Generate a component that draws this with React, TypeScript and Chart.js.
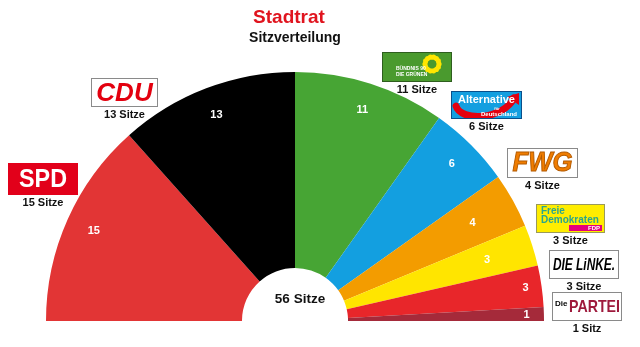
import React, { useEffect, useRef } from 'react';
import { Chart, registerables } from 'chart.js';

Chart.register(...registerables);

// ---- data ----
const parties = ['SPD', 'CDU', 'GRÜNE', 'AfD', 'FWG', 'FDP', 'DIE LINKE', 'Die PARTEI'];
const seats = [15, 13, 11, 6, 4, 3, 3, 1];
const titleText = 'Stadtrat';
const subtitleText = 'Sitzverteilung';
const totalSeats = seats.reduce((a, b) => a + b, 0);
const totalLabel = `${totalSeats} Sitze`;
const seatCaptions = seats.map((n) => (n === 1 ? `${n} Sitz` : `${n} Sitze`));

// ---- styles / layout ----
const colors = ['#e23535', '#000000', '#47a534', '#139fe0', '#f39c00', '#ffe500', '#e8262a', '#a52a3a'];
const labelRadius = [0.885, 0.885, 0.89, 0.89, 0.815, 0.81, 0.935, 0.93];
const logoBoxes = [
  [8, 163, 70, 32],
  [91, 78, 67, 29],
  [382, 52, 70, 30],
  [451, 91, 71, 28],
  [507, 148, 71, 30],
  [536, 204, 69, 29],
  [549, 250, 70, 29],
  [552, 292, 70, 29],
];
const FONT = '"Liberation Sans", Arial, sans-serif';

function drawLogo(ctx: CanvasRenderingContext2D, i: number) {
  const [x, y, w, h] = logoBoxes[i];
  const cx = x + w / 2;
  const cy = y + h / 2;
  ctx.save();
  ctx.textAlign = 'center';
  ctx.textBaseline = 'middle';
  const framed = (fill: string, stroke: string) => {
    ctx.fillStyle = fill;
    ctx.fillRect(x, y, w, h);
    ctx.strokeStyle = stroke;
    ctx.lineWidth = 1;
    ctx.strokeRect(x + 0.5, y + 0.5, w - 1, h - 1);
  };
  switch (i) {
    case 0: {
      ctx.fillStyle = '#e2001a';
      ctx.fillRect(x, y, w, h);
      ctx.fillStyle = '#fff';
      ctx.font = `bold 25px ${FONT}`;
      ctx.fillText('SPD', cx, cy + 1, 48);
      break;
    }
    case 1: {
      framed('#fff', '#8a8a8a');
      ctx.fillStyle = '#e3000f';
      ctx.font = `italic bold 26px ${FONT}`;
      ctx.fillText('CDU', cx, cy + 1, 61);
      break;
    }
    case 2: {
      framed('#4a9a2e', '#2e5e1e');
      ctx.fillStyle = '#ffe600';
      const sx = x + 50, sy = y + 12;
      for (let k = 0; k < 14; k++) {
        const a = (k / 14) * Math.PI * 2;
        ctx.beginPath();
        ctx.arc(sx + Math.cos(a) * 7, sy + Math.sin(a) * 7, 2.6, 0, Math.PI * 2);
        ctx.fill();
      }
      ctx.fillStyle = '#4a9a2e';
      ctx.beginPath();
      ctx.arc(sx, sy, 4, 0, Math.PI * 2);
      ctx.fill();
      ctx.fillStyle = '#fff';
      ctx.font = `bold 5px ${FONT}`;
      ctx.textAlign = 'left';
      ctx.fillText('BÜNDNIS 90', x + 14, y + 17);
      ctx.fillText('DIE GRÜNEN', x + 14, y + 23);
      break;
    }
    case 3: {
      framed('#139fe0', '#0a4f8a');
      ctx.save();
      ctx.beginPath();
      ctx.rect(x + 1, y + 1, w - 2, h - 2);
      ctx.clip();
      ctx.strokeStyle = '#e3000f';
      ctx.lineWidth = 7;
      ctx.lineCap = 'round';
      ctx.beginPath();
      ctx.moveTo(x + 5, y + 15);
      ctx.bezierCurveTo(x + 10, y + h + 3, x + 52, y + h + 1, x + 63, y + 7);
      ctx.stroke();
      ctx.fillStyle = '#e3000f';
      ctx.beginPath();
      ctx.moveTo(x + 56, y + 6);
      ctx.lineTo(x + 68, y + 2);
      ctx.lineTo(x + 68, y + 14);
      ctx.closePath();
      ctx.fill();
      ctx.restore();
      ctx.fillStyle = '#fff';
      ctx.font = `bold 11px ${FONT}`;
      ctx.fillText('Alternative', cx, y + 9, 60);
      ctx.font = `bold 4px ${FONT}`;
      ctx.fillText('für', x + 46, y + 18);
      ctx.font = `bold 6px ${FONT}`;
      ctx.fillText('Deutschland', x + 48, y + 23);
      break;
    }
    case 4: {
      framed('#fff', '#8a8a8a');
      ctx.font = `italic bold 27px ${FONT}`;
      ctx.fillStyle = '#f07d00';
      ctx.strokeStyle = '#b45a00';
      ctx.lineWidth = 1;
      ctx.fillText('FWG', cx, cy + 1, 60);
      ctx.strokeText('FWG', cx, cy + 1, 60);
      break;
    }
    case 5: {
      framed('#ffed00', '#9a9a5a');
      ctx.textAlign = 'left';
      ctx.fillStyle = '#2aa58e';
      ctx.font = `bold 10px ${FONT}`;
      ctx.fillText('Freie', x + 5, y + 7);
      ctx.fillText('Demokraten', x + 5, y + 16, 60);
      ctx.fillStyle = '#e5007d';
      ctx.fillRect(x + 33, y + 21, 33, 6);
      ctx.fillStyle = '#fff';
      ctx.font = `bold 6px ${FONT}`;
      ctx.textAlign = 'right';
      ctx.fillText('FDP', x + 64, y + 24);
      break;
    }
    case 6: {
      framed('#fff', '#8a8a8a');
      ctx.fillStyle = '#000';
      ctx.font = `italic bold 17px ${FONT}`;
      ctx.fillText('DIE LiNKE.', cx, cy + 1, 62);
      break;
    }
    case 7: {
      framed('#fff', '#8a8a8a');
      ctx.textAlign = 'left';
      ctx.fillStyle = '#000';
      ctx.font = `bold 8px ${FONT}`;
      ctx.fillText('Die', x + 3, cy - 3);
      ctx.fillStyle = '#9e1a3c';
      ctx.font = `bold 17px ${FONT}`;
      ctx.fillText('PARTEI', x + 17, cy + 1, 51);
      break;
    }
  }
  // seat caption
  ctx.textAlign = 'center';
  ctx.textBaseline = 'middle';
  ctx.fillStyle = '#111';
  ctx.font = `bold 11px ${FONT}`;
  ctx.fillText(seatCaptions[i], cx, y + h + 8);
  ctx.restore();
}

const overlayPlugin = {
  id: 'overlay',
  afterDatasetsDraw(chart: any) {
    const ctx: CanvasRenderingContext2D = chart.ctx;
    const meta = chart.getDatasetMeta(0);
    ctx.save();
    ctx.textAlign = 'center';
    ctx.textBaseline = 'middle';
    meta.data.forEach((arc: any, i: number) => {
      const p = arc.getProps(['x', 'y', 'startAngle', 'endAngle', 'outerRadius'], true);
      const mid = (p.startAngle + p.endAngle) / 2;
      const r = p.outerRadius * labelRadius[i];
      ctx.fillStyle = '#fff';
      ctx.font = `bold 11px ${FONT}`;
      ctx.fillText(String(seats[i]), p.x + Math.cos(mid) * r, p.y + Math.sin(mid) * r);
    });
    const p0 = meta.data[0].getProps(['x', 'y', 'innerRadius'], true);
    ctx.fillStyle = '#111';
    ctx.font = `bold 13.5px ${FONT}`;
    ctx.fillText(totalLabel, p0.x + 5, p0.y - 22);

    ctx.fillStyle = '#e0141e';
    ctx.font = `bold 19px ${FONT}`;
    ctx.fillText(titleText, 289, 18);
    ctx.fillStyle = '#111';
    ctx.font = `bold 14px ${FONT}`;
    ctx.fillText(subtitleText, 295, 38);
    ctx.restore();
    for (let i = 0; i < parties.length; i++) drawLogo(ctx, i);
  },
};

export default function App() {
  const ref = useRef<HTMLCanvasElement>(null);
  useEffect(() => {
    const chart = new Chart(ref.current!, {
      type: 'doughnut',
      data: {
        labels: parties,
        datasets: [
          {
            data: seats,
            backgroundColor: colors,
            borderWidth: 0,
          },
        ],
      },
      options: {
        responsive: false,
        animation: false,
        rotation: -90,
        circumference: 180,
        cutout: '21.3%',
        layout: { padding: { left: 46, right: 96, top: 72, bottom: 26 } },
        plugins: { legend: { display: false }, tooltip: { enabled: false } },
      },
      plugins: [overlayPlugin],
    } as any);
    return () => chart.destroy();
  }, []);
  return (
    <div style={{ position: 'absolute', left: 0, top: 0, width: 640, height: 347, background: '#fff' }}>
      <canvas ref={ref} width={640} height={347} style={{ display: 'block', width: 640, height: 347 }} />
    </div>
  );
}
